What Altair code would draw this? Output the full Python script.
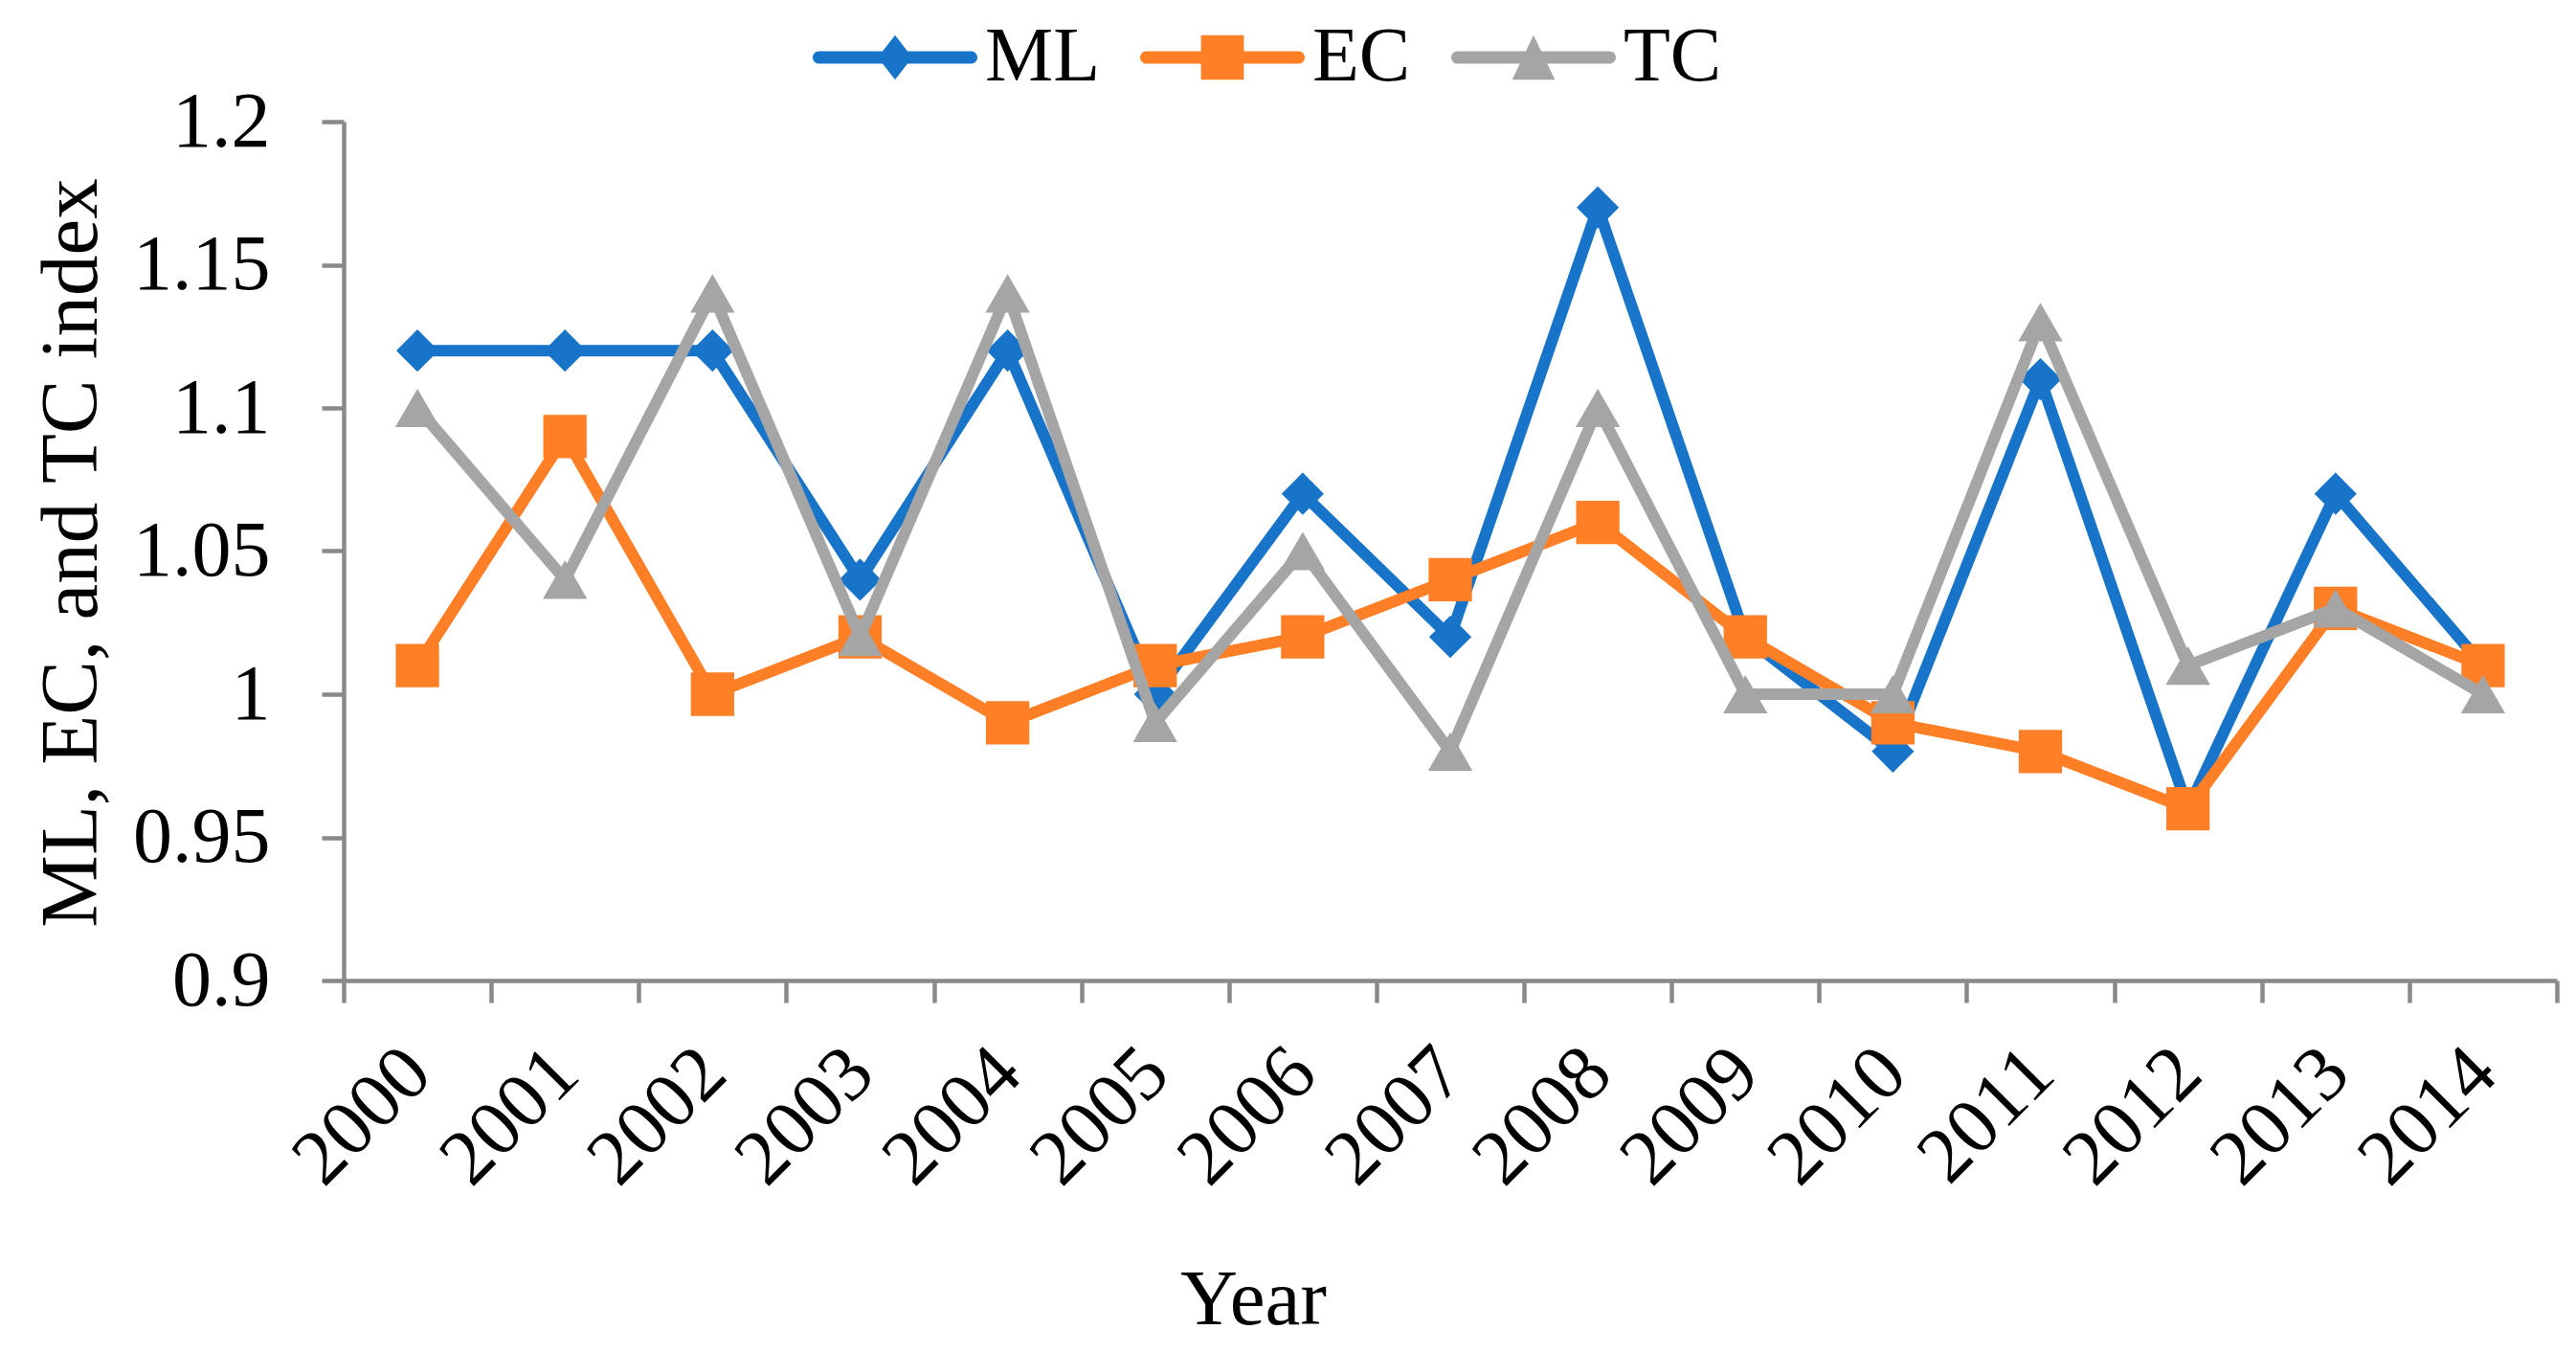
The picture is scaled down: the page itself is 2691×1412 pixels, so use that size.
import altair as alt
import pandas as pd

# ---- data ----
years = list(range(2000, 2015))
ml = [1.12, 1.12, 1.12, 1.04, 1.12, 1.00, 1.07, 1.02, 1.17, 1.02, 0.98, 1.11, 0.96, 1.07, 1.01]
ec = [1.01, 1.09, 1.00, 1.02, 0.99, 1.01, 1.02, 1.04, 1.06, 1.02, 0.99, 0.98, 0.96, 1.03, 1.01]
tc = [1.10, 1.04, 1.14, 1.02, 1.14, 0.99, 1.05, 0.98, 1.10, 1.00, 1.00, 1.13, 1.01, 1.03, 1.00]
series_names = ["ML", "EC", "TC"]
series_values = [ml, ec, tc]
y_ticks = [0.9, 0.95, 1.0, 1.05, 1.1, 1.15, 1.2]

# ---- styles ----
series_colors = ["#1874C9", "#FF7F27", "#A5A5A5"]
marker_shapes = ["diamond", "square", "triangle-up"]
marker_sizes = [1950, 2050, 2150]
LINE = ("M-0.924,-0.076L0.924,-0.076A0.076,0.076 0 0 1 0.924,0.076"
        "L-0.924,0.076A0.076,0.076 0 0 1 -0.924,-0.076Z")
legend_paths = [
    LINE + "M0,-0.27L0.21,0L0,0.27L-0.21,0Z",
    LINE + "M-0.26,-0.27L0.26,-0.27L0.26,0.27L-0.26,0.27Z",
    LINE + "M0,-0.27L0.26,0.27L-0.26,0.27Z",
]
FONT = "Liberation Serif"
AXIS_GRAY = "#898989"

rows = []
for name, vals in zip(series_names, series_values):
    for yr, v in zip(years, vals):
        rows.append({"Year": yr, "value": v, "series": name})
df = pd.DataFrame(rows)

x_bounds = [y - 0.5 for y in years] + [years[-1] + 0.5]

x_enc = alt.X(
    "Year:Q",
    scale=alt.Scale(domain=[years[0] - 0.5, years[-1] + 0.5], nice=False, zero=False),
    axis=alt.Axis(
        title="Year",
        values=sorted(x_bounds + years),
        labelExpr="datum.value % 1 == 0 ? format(datum.value, 'd') : ''",
        tickOpacity={"condition": {"test": "datum.value % 1 == 0", "value": 0}, "value": 1},
        grid=False,
        labelAngle=-45,
        labelAlign="right",
        labelBaseline="middle",
        labelPadding=60,
        labelOverlap=False,
        labelFlush=False,
        labelFont=FONT,
        labelFontSize=82,
        labelColor="black",
        tickSize=23,
        tickWidth=4.5,
        tickColor=AXIS_GRAY,
        domainColor=AXIS_GRAY,
        domainWidth=4.5,
        titleFont=FONT,
        titleFontSize=83,
        titleFontWeight="normal",
        titleColor="black",
        titleX=950,
        titleY=358,
        titleAlign="center",
        titleBaseline="alphabetic",
    ),
)
y_enc = alt.Y(
    "value:Q",
    scale=alt.Scale(domain=[0.9, 1.2], nice=False, zero=False),
    axis=alt.Axis(
        title="ML, EC, and TC index",
        values=y_ticks,
        format=".2~f",
        grid=False,
        labelPadding=54,
        labelFlush=False,
        labelOverlap=False,
        labelFont=FONT,
        labelFontSize=82,
        labelColor="black",
        labelBaseline="middle",
        tickSize=23,
        tickWidth=4.5,
        tickColor=AXIS_GRAY,
        domainColor=AXIS_GRAY,
        domainWidth=4.5,
        titleFont=FONT,
        titleFontSize=85,
        titleFontWeight="normal",
        titleColor="black",
        titleAngle=-90,
        titleX=-259,
        titleY=450,
        titleAlign="center",
        titleBaseline="alphabetic",
    ),
)

base = alt.Chart(df)
layers = []
for name, color, shape, size in zip(series_names, series_colors, marker_shapes, marker_sizes):
    sel = base.transform_filter(alt.datum.series == name)
    layers.append(
        sel.mark_line(color=color, strokeWidth=12, strokeJoin="round", strokeCap="round")
        .encode(x=x_enc, y=y_enc)
    )
    layers.append(
        sel.mark_point(shape=shape, size=size, filled=True, color=color, opacity=1, strokeWidth=0)
        .encode(x=x_enc, y=y_enc)
    )

legend_layer = base.transform_filter("false").mark_point(filled=True, opacity=1, strokeWidth=0).encode(
    color=alt.Color(
        "series:N",
        scale=alt.Scale(domain=series_names, range=series_colors),
        legend=alt.Legend(
            title=None,
            orient="none",
            direction="horizontal",
            legendX=490,
            legendY=-153,
            symbolSize=29584,
            symbolStrokeWidth=0,
            symbolOpacity=1,
            labelFont=FONT,
            labelFontSize=80,
            labelColor="black",
            labelOffset=8,
            columnPadding=42,
            padding=0,
        ),
    ),
    shape=alt.Shape(
        "series:N",
        scale=alt.Scale(domain=series_names, range=legend_paths),
    ),
)

chart = (
    alt.layer(*layers, legend_layer)
    .properties(
        width=2312,
        height=897,
        padding={"left": 351, "top": 119, "right": 12, "bottom": 380},
        autosize=alt.AutoSizeParams(type="none"),
        background="white",
    )
    .configure_view(stroke=None)
)

chart.save("out.html", embed_options={"renderer": "svg", "actions": False})
